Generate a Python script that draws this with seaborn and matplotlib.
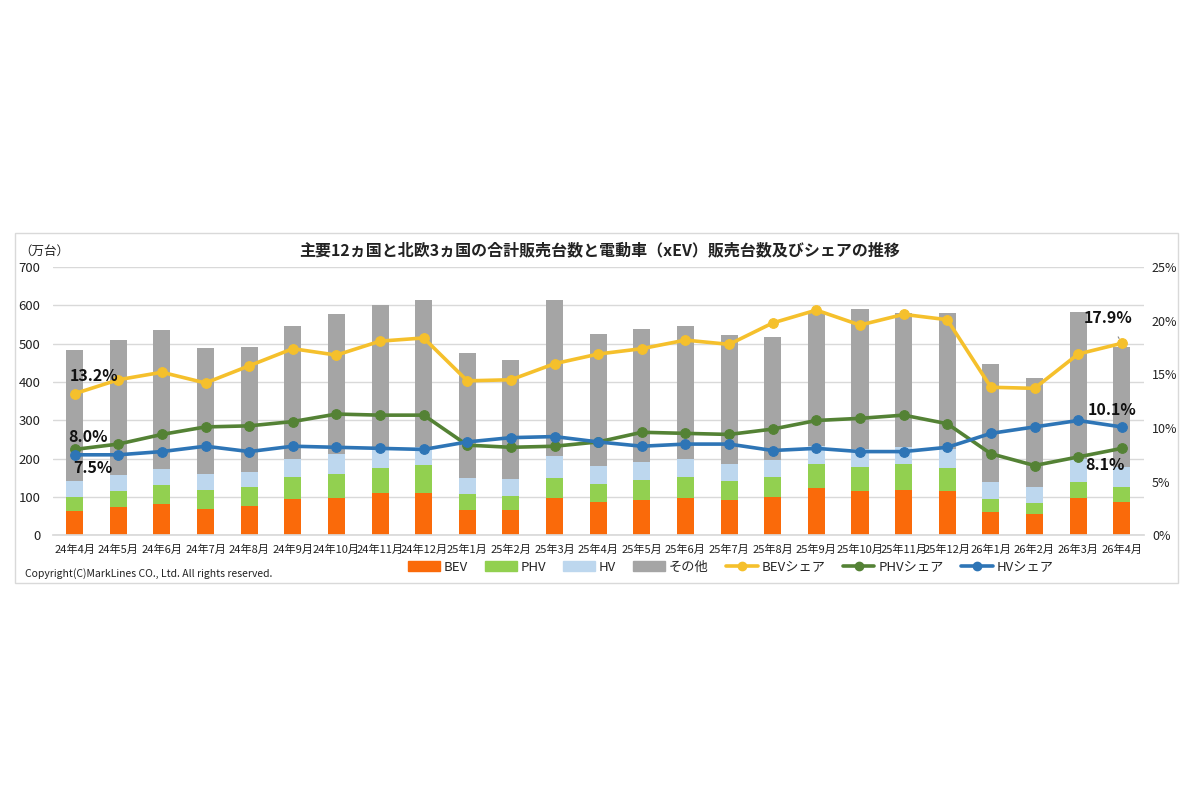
import numpy as np
import pandas as pd
import matplotlib
matplotlib.use("Agg")
import matplotlib.pyplot as plt
import seaborn as sns
from matplotlib.patches import Patch, Rectangle
from matplotlib.lines import Line2D

months = ["24年4月", "24年5月", "24年6月", "24年7月", "24年8月", "24年9月", "24年10月",
          "24年11月", "24年12月", "25年1月", "25年2月", "25年3月", "25年4月", "25年5月",
          "25年6月", "25年7月", "25年8月", "25年9月", "25年10月", "25年11月", "25年12月",
          "26年1月", "26年2月", "26年3月", "26年4月"]

# 販売台数（万台）
bev = [63, 74, 81, 69, 77, 95, 97, 109, 111, 67, 65, 97, 87, 93, 97, 93, 101, 124, 116, 119, 116, 61, 55, 98, 87]
phv = [38, 42, 50, 50, 49, 56, 64, 67, 72, 40, 38, 53, 47, 51, 54, 49, 51, 61, 62, 66, 60, 34, 28, 42, 39]
hv = [40, 41, 43, 42, 40, 47, 50, 46, 47, 43, 43, 57, 47, 47, 47, 43, 44, 48, 46, 46, 50, 43, 42, 58, 52]
other = [344, 353, 361, 329, 325, 348, 366, 379, 385, 325, 311, 407, 344, 347, 348, 337, 322, 352, 366, 350, 355, 309, 285, 384, 314]

# シェア（%）
bev_share = [13.2, 14.5, 15.2, 14.2, 15.8, 17.4, 16.8, 18.1, 18.4, 14.4, 14.5, 16.0, 16.9, 17.4, 18.2, 17.8,
             19.8, 21.0, 19.6, 20.6, 20.1, 13.8, 13.7, 16.9, 17.9]
phv_share = [8.0, 8.5, 9.4, 10.1, 10.2, 10.6, 11.3, 11.2, 11.2, 8.4, 8.2, 8.3, 8.7, 9.6, 9.5, 9.4,
             9.9, 10.7, 10.9, 11.2, 10.4, 7.6, 6.5, 7.3, 8.1]
hv_share = [7.5, 7.5, 7.8, 8.3, 7.8, 8.3, 8.2, 8.1, 8.0, 8.7, 9.1, 9.2, 8.7, 8.3, 8.5, 8.5,
            7.9, 8.1, 7.8, 7.8, 8.2, 9.5, 10.1, 10.7, 10.1]

c_bev, c_phv, c_hv, c_other = "#FA6A0A", "#92D050", "#BDD7EE", "#A5A5A5"
c_bev_l, c_phv_l, c_hv_l = "#F5C02C", "#548235", "#2E75B6"

df = pd.DataFrame({"month": months, "BEV": bev, "PHV": phv, "HV": hv, "other": other})
df["top_bev"] = df["BEV"]
df["top_phv"] = df["top_bev"] + df["PHV"]
df["top_hv"] = df["top_phv"] + df["HV"]
df["total"] = df["top_hv"] + df["other"]

sns.set_theme(style="white")
plt.rcParams["font.family"] = ["Noto Sans CJK JP", "DejaVu Sans"]

fig = plt.figure(figsize=(12, 8), dpi=100)
ax = fig.add_axes([0.044, 0.331, 0.909, 0.335])

# 積み上げ棒（大きい方から描いて重ねる）
for col, c in [("total", c_other), ("top_hv", c_hv), ("top_phv", c_phv), ("top_bev", c_bev)]:
    sns.barplot(data=df, x="month", y=col, color=c, width=0.39, saturation=1, ax=ax,
                linewidth=0, zorder=2)

ax.set_ylim(0, 700)
ax.set_yticks(range(0, 701, 100))
ax.yaxis.grid(True, color="#D9D9D9", linewidth=1)
ax.set_axisbelow(True)
ax.set_xlim(-0.5, len(months) - 0.5)
ax.set_xlabel("")
ax.set_ylabel("")
for s in ["top", "left", "right"]:
    ax.spines[s].set_visible(False)
ax.spines["bottom"].set_color("#D9D9D9")
ax.tick_params(axis="y", labelsize=9.5, pad=9, colors="#222222", length=0)
ax.tick_params(axis="x", labelsize=8, pad=7, colors="#222222", length=0)

ax2 = ax.twinx()
x = np.arange(len(months))
for vals, c in [(bev_share, c_bev_l), (phv_share, c_phv_l), (hv_share, c_hv_l)]:
    sns.lineplot(x=x, y=vals, ax=ax2, color=c, linewidth=2.6, marker="o", markersize=7,
                 markeredgecolor=c, zorder=3)
ax2.set_ylim(0, 25)
ax2.set_yticks(range(0, 26, 5))
ax2.set_yticklabels([f"{v}%" for v in range(0, 26, 5)])
ax2.set_xlim(-0.5, len(months) - 0.5)
ax2.tick_params(axis="y", labelsize=9, pad=6, colors="#222222", length=0)
for s in ["top", "left", "right", "bottom"]:
    ax2.spines[s].set_visible(False)

# データラベル
n = len(months) - 1
labels = [(0, bev_share, (19, 18), None), (0, phv_share, (13, 12), None), (0, hv_share, (18, -13), None),
          (n, bev_share, (-14, 25), "#888888"), (n, hv_share, (-10, 17), None), (n, phv_share, (-17, -17), None)]
for i, vals, off, arr in labels:
    ax2.annotate(f"{vals[i]:.1f}%", xy=(i, vals[i]), xytext=off, textcoords="offset pixels",
                 ha="center", va="center", fontsize=11.5, fontweight="bold", color="#111111",
                 arrowprops=dict(arrowstyle="-", color=arr, lw=0.8, shrinkA=6, shrinkB=4) if arr else None)

fig.text(0.5, 0.687, "主要12ヵ国と北欧3ヵ国の合計販売台数と電動車（xEV）販売台数及びシェアの推移",
         ha="center", va="center", fontsize=11.5, fontweight="bold", color="#222222")
fig.text(0.016, 0.686, "（万台）", ha="left", va="center", fontsize=9, color="#222222")
fig.text(0.021, 0.283, "Copyright(C)MarkLines CO., Ltd. All rights reserved.", ha="left", va="center",
         fontsize=7.5, color="#222222")

handles = [Patch(color=c_bev, label="BEV"), Patch(color=c_phv, label="PHV"),
           Patch(color=c_hv, label="HV"), Patch(color=c_other, label="その他"),
           Line2D([], [], color=c_bev_l, lw=2.6, marker="o", markersize=6, label="BEVシェア"),
           Line2D([], [], color=c_phv_l, lw=2.6, marker="o", markersize=6, label="PHVシェア"),
           Line2D([], [], color=c_hv_l, lw=2.6, marker="o", markersize=6, label="HVシェア")]
fig.legend(handles=handles, loc="center", bbox_to_anchor=(0.609, 0.291), ncol=7, frameon=False,
           fontsize=9.5, handlelength=2.4, handleheight=0.7, columnspacing=1.3, handletextpad=0.3)

fig.patches.append(Rectangle((0.0125, 0.271), 0.969, 0.4375, transform=fig.transFigure,
                             fill=False, edgecolor="#D9D9D9", linewidth=1))

fig.savefig("out.png", dpi=100, facecolor="white")
